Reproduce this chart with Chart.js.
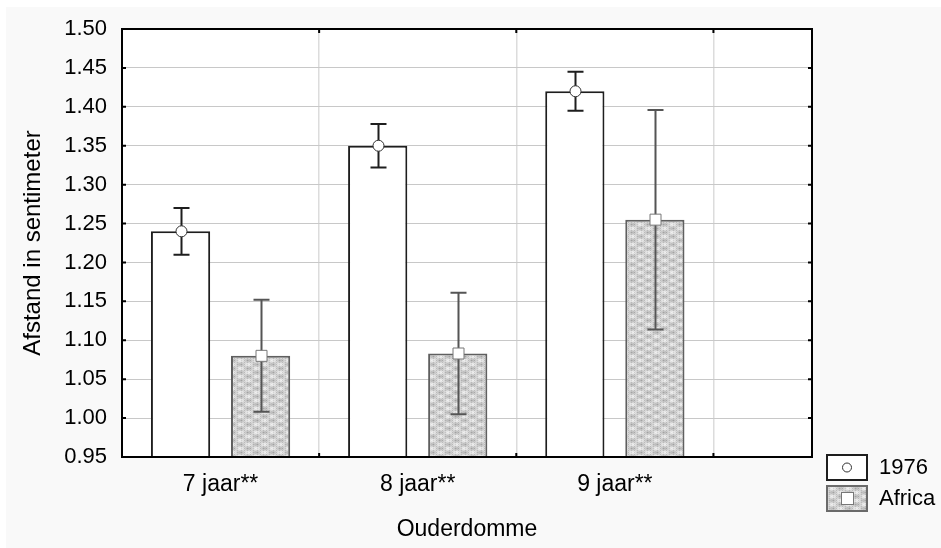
<!DOCTYPE html>
<html>
<head>
<meta charset="utf-8">
<script src="https://cdn.jsdelivr.net/npm/chart.js@4/dist/chart.umd.min.js"></script>
<style>
  html, body { margin: 0; padding: 0; background: #fff; }
  #myChart { display: block; }
</style>
</head>
<body>
<canvas id="myChart" width="941" height="548"></canvas>
<script>
var categories = ["7 jaar**", "8 jaar**", "9 jaar**"];
var yTicks = [0.95, 1.00, 1.05, 1.10, 1.15, 1.20, 1.25, 1.30, 1.35, 1.40, 1.45, 1.50];
var gridX = [0.5, 1.5, 2.5];

// means and half-widths of the error bars
var mean1976 = [1.240, 1.350, 1.420];
var err1976 = [0.030, 0.028, 0.025];
var meanAfrica = [1.080, 1.083, 1.255];
var errAfrica = [0.072, 0.078, 0.141];

var FONT = '"Liberation Sans", Arial, sans-serif';

var ctx = document.getElementById('myChart');

// grey woven fill for the second group
function makeTexture() {
  var c = document.createElement('canvas');
  c.width = 16; c.height = 16;
  var g = c.getContext('2d');
  var img = g.createImageData(16, 16);
  for (var j = 0; j < 16; j++) {
    for (var i = 0; i < 16; i++) {
      var v = 208 + 26 * Math.cos(2 * Math.PI * i / 16) * Math.cos(2 * Math.PI * j / 8);
      if (i % 3 === 1 && j % 2 === 0) v -= 22;
      else if ((i + j) % 2) v += 8;
      v = Math.max(0, Math.min(255, Math.round(v)));
      var k = (j * 16 + i) * 4;
      img.data[k] = v; img.data[k + 1] = v; img.data[k + 2] = v; img.data[k + 3] = 255;
    }
  }
  g.putImageData(img, 0, 0);
  return ctx.getContext('2d').createPattern(c, 'repeat');
}
var texture = makeTexture();

function points(values) {
  return values.map(function (v, i) { return { x: i, y: v }; });
}

var data = {
  datasets: [
    {
      label: "1976",
      data: points(mean1976),
      backgroundColor: "#ffffff",
      borderColor: "#1e1e1e",
      borderWidth: 2,
      borderSkipped: false
    },
    {
      label: "Africa",
      data: points(meanAfrica),
      backgroundColor: texture,
      borderColor: "#5f5f5f",
      borderWidth: 2,
      borderSkipped: false
    }
  ]
};

//page and plot backgrounds
var backdrop = {
  id: 'backdrop',
  beforeDraw: function (chart) {
    var c = chart.ctx, a = chart.chartArea;
    c.save();
    c.fillStyle = '#ffffff';
    c.fillRect(0, 0, chart.width, chart.height);
    c.fillStyle = '#f9f9f9';
    c.fillRect(6, 7, chart.width - 6, chart.height - 7);
    c.fillStyle = '#ffffff';
    c.fillRect(a.left, a.top, a.right - a.left, a.bottom - a.top);
    c.restore();
  }
};

//error bars with mean markers
var errorBars = {
  id: 'errorBars',
  afterDatasetsDraw: function (chart) {
    var c = chart.ctx, y = chart.scales.y;
    var series = [
      { mean: mean1976, err: err1976, color: '#1e1e1e', marker: 'circle' },
      { mean: meanAfrica, err: errAfrica, color: '#555555', marker: 'square' }
    ];
    c.save();
    series.forEach(function (s, d) {
      chart.getDatasetMeta(d).data.forEach(function (bar, i) {
        var x = Math.round(bar.x) + 0.5;
        var top = y.getPixelForValue(s.mean[i] + s.err[i]);
        var bot = y.getPixelForValue(s.mean[i] - s.err[i]);
        var mid = y.getPixelForValue(s.mean[i]);
        c.strokeStyle = s.color;
        c.lineWidth = 2;
        c.beginPath();
        c.moveTo(x, top); c.lineTo(x, bot);
        c.moveTo(x - 8, top); c.lineTo(x + 8, top);
        c.moveTo(x - 8, bot); c.lineTo(x + 8, bot);
        c.stroke();
        c.fillStyle = '#ffffff';
        c.lineWidth = 1;
        c.beginPath();
        if (s.marker === 'circle') {
          c.arc(x, mid, 5.5, 0, Math.PI * 2);
        } else {
          c.rect(x - 5.5, mid - 5.5, 11, 11);
        }
        c.fill();
        c.strokeStyle = s.marker === 'circle' ? '#333333' : '#777777';
        c.stroke();
      });
    });
    c.restore();
  }
};

//box round the plot with small inward ticks
var frame = {
  id: 'frame',
  afterDatasetsDraw: function (chart) {
    var c = chart.ctx, a = chart.chartArea, x = chart.scales.x, y = chart.scales.y;
    c.save();
    c.strokeStyle = '#000000';
    c.lineWidth = 2;
    c.strokeRect(a.left, a.top, a.right - a.left, a.bottom - a.top);
    c.beginPath();
    yTicks.forEach(function (t) {
      var py = y.getPixelForValue(t);
      c.moveTo(a.left, py); c.lineTo(a.left + 4, py);
      c.moveTo(a.right, py); c.lineTo(a.right - 4, py);
    });
    gridX.forEach(function (t) {
      var px = x.getPixelForValue(t);
      c.moveTo(px, a.top); c.lineTo(px, a.top + 4);
      c.moveTo(px, a.bottom); c.lineTo(px, a.bottom - 4);
    });
    c.stroke();
    c.restore();
  }
};

//legend in the lower right corner
var sideLegend = {
  id: 'sideLegend',
  afterDraw: function (chart) {
    var c = chart.ctx;
    c.save();
    // 1976
    c.fillStyle = '#ffffff';
    c.fillRect(827, 455, 40, 25);
    c.strokeStyle = '#1e1e1e';
    c.lineWidth = 2;
    c.strokeRect(827, 455, 40, 25);
    c.lineWidth = 1;
    c.strokeStyle = '#333333';
    c.beginPath();
    c.arc(847, 467.5, 4.5, 0, Math.PI * 2);
    c.stroke();
    // Africa
    c.fillStyle = texture;
    c.fillRect(827, 486, 40, 25);
    c.strokeStyle = '#6a6a6a';
    c.lineWidth = 2;
    c.strokeRect(827, 486, 40, 25);
    c.fillStyle = '#ffffff';
    c.fillRect(841.5, 492.5, 12, 12);
    c.lineWidth = 1;
    c.strokeStyle = '#777777';
    c.strokeRect(841.5, 492.5, 12, 12);
    // labels
    c.fillStyle = '#000000';
    c.font = '22px ' + FONT;
    c.textAlign = 'left';
    c.textBaseline = 'middle';
    c.fillText(data.datasets[0].label, 879, 468);
    c.fillText(data.datasets[1].label, 879, 499);
    c.restore();
  }
};

var options = {
  responsive: false,
  animation: false,
  devicePixelRatio: 1,
  layout: { padding: { left: 6, top: 29, right: 129, bottom: 0 } },
  categoryPercentage: 0.812,
  barPercentage: 0.74,
  plugins: {
    legend: { display: false },
    tooltip: { enabled: false }
  },
  scales: {
    x: {
      type: 'linear',
      min: -0.5,
      max: 3,
      offset: false,
      afterBuildTicks: function (scale) {
        scale.ticks = categories.map(function (c, i) { return { value: i }; });
      },
      afterFit: function (scale) { scale.height = 91; },
      grid: { offset: true, color: '#dcdcdc', lineWidth: 1.5, drawTicks: false },
      border: { display: false },
      ticks: {
        padding: 14,
        color: '#000',
        maxRotation: 0,
        autoSkip: false,
        font: { family: FONT, size: 23 },
        callback: function (v, i) { return categories[i]; }
      },
      title: {
        display: true,
        text: 'Ouderdomme',
        color: '#000',
        font: { family: FONT, size: 23 },
        padding: { top: 0, bottom: 5 }
      }
    },
    y: {
      min: 0.95,
      max: 1.5,
      afterBuildTicks: function (scale) {
        scale.ticks = yTicks.map(function (t) { return { value: t }; });
      },
      afterFit: function (scale) { scale.width = 116; },
      grid: { color: '#c8c8c8', lineWidth: 1, drawTicks: false },
      border: { display: false },
      ticks: {
        padding: 15,
        color: '#000',
        font: { family: FONT, size: 22 },
        callback: function (v) { return Number(v).toFixed(2); }
      },
      title: {
        display: true,
        text: 'Afstand in sentimeter',
        color: '#000',
        font: { family: FONT, size: 24 },
        padding: { top: 13, bottom: 0 }
      }
    }
  }
};

//create Chart class object
var chart = new Chart(ctx, {
  type: "bar",
  data: data,
  options: options,
  plugins: [backdrop, errorBars, frame, sideLegend]
});
</script>
</body>
</html>
